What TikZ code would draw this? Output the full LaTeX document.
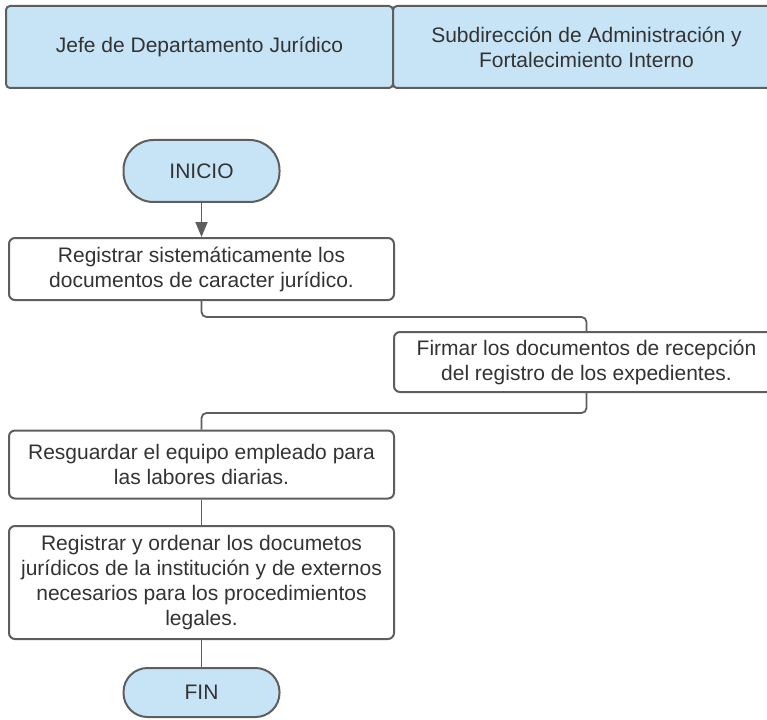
\documentclass[tikz,border=0pt]{standalone}
\usepackage{fontspec}
\setmainfont{Liberation Sans}
\usetikzlibrary{arrows.meta}
\definecolor{fillblue}{HTML}{C7E4F7}
\definecolor{strokegray}{HTML}{5E5E5E}
\definecolor{txt}{HTML}{333333}
\begin{document}
\begin{tikzpicture}[x=1pt,y=-1pt,
 lbl/.style={text=txt, font=\fontsize{21}{25}\selectfont, align=center, inner sep=0pt},
 lane/.style={lbl, draw=strokegray, fill=fillblue, line width=2pt, rounded corners=4pt},
 stepbox/.style={lbl, draw=strokegray, fill=white, line width=2pt, rounded corners=6pt},
 term/.style={lbl, draw=strokegray, fill=fillblue, line width=2pt},
 conn/.style={draw=strokegray, line width=1.8pt, rounded corners=5pt},
]
\useasboundingbox (0,0) rectangle (767,719);
\clip (0,0) rectangle (767,719);

\node[lane, minimum width=387pt, minimum height=82pt] (h1) at (199.5,47) {Jefe de Departamento Jurídico};
\node[lane, minimum width=387pt, minimum height=82pt] (h2) at (586.5,47) {Subdirección de Administración y\\Fortalecimiento Interno};

\node[term, rounded corners=30pt, minimum width=156pt, minimum height=62pt] (ini) at (201.5,171) {INICIO};
\node[stepbox, minimum width=385pt, minimum height=62pt] (b1) at (201.5,269) {Registrar sistemáticamente los\\documentos de caracter jurídico.};
\node[stepbox, minimum width=385pt, minimum height=60pt] (b2) at (586.5,362) {Firmar los documentos de recepción\\del registro de los expedientes.};
\node[stepbox, minimum width=385pt, minimum height=68pt] (b3) at (201.5,464.5) {Resguardar el equipo empleado para\\las labores diarias.};
\node[stepbox, minimum width=385pt, minimum height=113pt] (b4) at (201.5,582.5) {Registrar y ordenar los documetos\\jurídicos de la institución y de externos\\necesarios para los procedimientos\\legales.};
\node[term, rounded corners=24pt, minimum width=156pt, minimum height=49pt] (fin) at (201.5,692.5) {FIN};

\draw[conn, -{Triangle[length=15pt,width=12pt]}] (ini.south) -- (b1.north);
\draw[conn] (b1.south) -- ++(0,16) -| (b2.north);
\draw[conn] (b2.south) -- ++(0,20) -| (b3.north);
\draw[conn] (b3.south) -- (b4.north);
\draw[conn] (b4.south) -- (fin.north);
\end{tikzpicture}
\end{document}
